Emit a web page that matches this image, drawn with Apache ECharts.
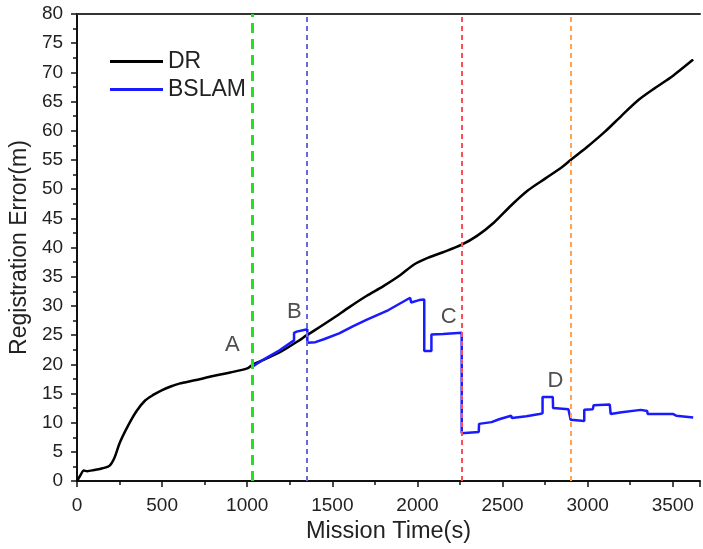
<!DOCTYPE html>
<html>
<head>
<meta charset="utf-8">
<script src="https://cdn.jsdelivr.net/npm/echarts@6/dist/echarts.min.js"></script>
<style>
  html, body { margin: 0; padding: 0; background: #fff; }
  #chart { width: 703px; height: 549px; }
</style>
</head>
<body>
<div id="chart"></div>
<script>
// Dead-reckoning registration error over the mission: [time (s), error (m)]
const drPoints = [
  [0, 0], [20, 1.0], [40, 1.8], [60, 1.7], [100, 1.9], [150, 2.2], [190, 2.6],
  [220, 4.0], [250, 6.5], [300, 9.5], [350, 12.0], [400, 13.8], [450, 14.8],
  [500, 15.6], [550, 16.2], [600, 16.7], [700, 17.3], [800, 18.0], [900, 18.6],
  [1000, 19.3], [1030, 19.9], [1100, 20.8], [1200, 22.2], [1300, 24.0],
  [1350, 25.0], [1400, 25.9], [1500, 27.8], [1600, 29.8], [1700, 31.7],
  [1800, 33.4], [1900, 35.3], [1980, 37.1], [2050, 38.1], [2150, 39.2],
  [2260, 40.5], [2350, 42.0], [2450, 44.3], [2550, 47.2], [2650, 49.8],
  [2750, 51.8], [2850, 53.8], [2900, 55.0], [3000, 57.3], [3100, 59.8],
  [3200, 62.6], [3300, 65.3], [3400, 67.4], [3500, 69.4], [3620, 72.2]
];

// BSLAM registration error, starting at the first loop closure
const bslamPoints = [
  [1030, 19.6], [1100, 20.9], [1190, 22.4], [1275, 24.1], [1275, 25.4],
  [1290, 25.6], [1353, 26.0], [1353, 23.7], [1400, 23.8], [1450, 24.3],
  [1540, 25.3], [1620, 26.5], [1700, 27.6], [1830, 29.3], [1957, 31.4],
  [1963, 30.6], [2010, 31.0], [2040, 31.1], [2040, 22.3], [2082, 22.3],
  [2082, 25.1], [2150, 25.2], [2260, 25.4], [2260, 8.2], [2360, 8.4],
  [2362, 9.8], [2435, 10.1], [2480, 10.6], [2550, 11.2], [2555, 10.8],
  [2640, 11.1], [2717, 11.5], [2735, 11.6], [2735, 14.4], [2795, 14.4],
  [2797, 12.5], [2887, 12.3], [2900, 10.5], [2980, 10.3], [2980, 12.2],
  [3030, 12.3], [3035, 13.0], [3130, 13.1], [3135, 11.5], [3200, 11.8],
  [3312, 12.2], [3350, 12.0], [3352, 11.5], [3500, 11.5], [3520, 11.2],
  [3620, 10.9]
];

// Event markers (loop closures) and their letters
const eventTimes = [1030, 1350, 2260, 2900];
const eventColors = ['#22e022', '#6a6ad4', '#ff4d55', '#ffa64a'];
const eventLabels = [
  [912, 23.4, 'A'], [1277, 29.0, 'B'], [2183, 28.2, 'C'], [2810, 17.1, 'D']
];

const seriesNames = ['DR', 'BSLAM'];
const xTitle = 'Mission Time(s)';
const yTitle = 'Registration Error(m)';

const FONT = 'Liberation Sans, Arial, sans-serif';

const chart = echarts.init(document.getElementById('chart'), null, { renderer: 'canvas' });

const eventLines = eventTimes.map((t, i) => ({
  xAxis: t,
  lineStyle: {
    color: eventColors[i],
    width: i === 0 ? 3 : 2,
    type: i === 0 ? [10, 6] : [5, 4]
  }
}));

chart.setOption({
  animation: false,
  backgroundColor: '#fff',
  grid: { left: 77, top: 14, right: 0, bottom: 66, containLabel: false },
  legend: {
    data: seriesNames,
    orient: 'vertical',
    left: 110,
    top: 50,
    padding: 0,
    itemWidth: 53,
    itemHeight: 3,
    itemGap: 5,
    icon: 'rect',
    textStyle: { fontFamily: FONT, fontSize: 23, color: '#222', lineHeight: 23 }
  },
  xAxis: [{
    type: 'value',
    min: 0,
    max: 3660,
    interval: 500,
    name: xTitle,
    nameLocation: 'middle',
    nameGap: 36,
    nameTextStyle: { fontFamily: FONT, fontSize: 23.5, color: '#222' },
    axisLine: { lineStyle: { color: '#111', width: 2 } },
    axisTick: { inside: false, length: 6, lineStyle: { color: '#111', width: 1.5 } },
    minorTick: { show: true, splitNumber: 2, length: 4, lineStyle: { color: '#111', width: 1.5 } },
    axisLabel: { fontFamily: FONT, fontSize: 19, color: '#222', margin: 15,
      formatter: v => (v > 3600 ? '' : String(v)) },
    splitLine: { show: false }
  }, {
    type: 'value',
    position: 'top',
    min: 0,
    max: 3660,
    axisLine: { show: true, lineStyle: { color: '#333', width: 2 } },
    axisTick: { show: false },
    axisLabel: { show: false },
    splitLine: { show: false }
  }],
  yAxis: {
    type: 'value',
    min: 0,
    max: 80,
    interval: 5,
    name: yTitle,
    nameLocation: 'middle',
    nameGap: 46,
    nameTextStyle: { fontFamily: FONT, fontSize: 23, color: '#222' },
    axisLine: { show: true, lineStyle: { color: '#111', width: 2 } },
    axisTick: { show: true, inside: false, length: 6, lineStyle: { color: '#111', width: 1.5 } },
    minorTick: { show: true, splitNumber: 2, length: 4, lineStyle: { color: '#111', width: 1.5 } },
    axisLabel: { fontFamily: FONT, fontSize: 19, color: '#222', margin: 14 },
    splitLine: { show: false }
  },
  series: [
    {
      name: 'DR',
      type: 'line',
      data: drPoints,
      smooth: 0.3,
      showSymbol: false,
      color: '#000',
      lineStyle: { color: '#000', width: 2.5 },
      z: 3
    },
    {
      name: 'BSLAM',
      type: 'line',
      data: bslamPoints,
      showSymbol: false,
      color: '#1a1aff',
      lineStyle: { color: '#1a1aff', width: 2.5 },
      z: 4
    },
    {
      name: 'events',
      type: 'line',
      data: [],
      markLine: {
        silent: true,
        symbol: ['none', 'none'],
        label: { show: false },
        data: eventLines
      },
      z: 5
    },
    {
      name: 'letters',
      type: 'scatter',
      data: eventLabels,
      symbolSize: 0,
      label: {
        show: true,
        position: 'inside',
        formatter: p => p.value[2],
        fontFamily: FONT,
        fontSize: 22,
        color: '#222'
      },
      z: 6
    }
  ]
});
</script>
</body>
</html>
